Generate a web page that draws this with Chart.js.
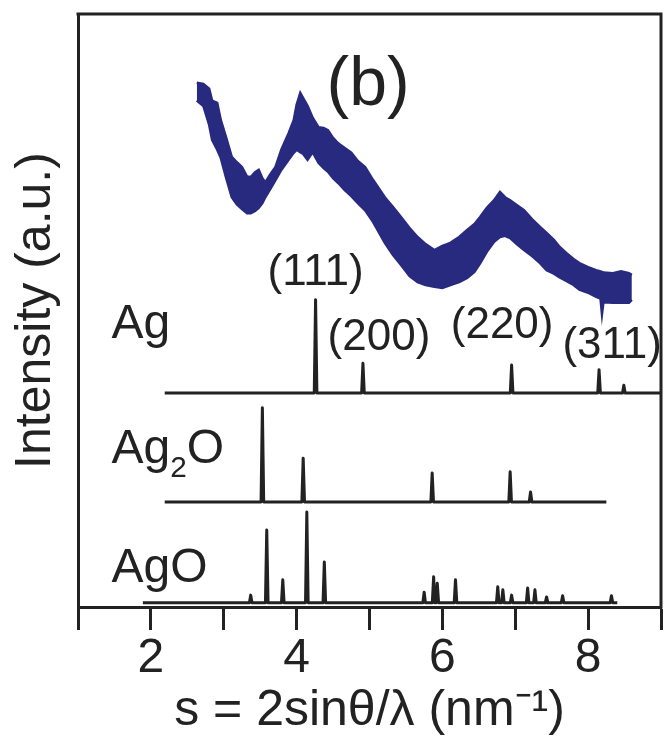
<!DOCTYPE html>
<html>
<head>
<meta charset="utf-8">
<script src="https://cdn.jsdelivr.net/npm/chart.js@4.4.0/dist/chart.umd.min.js"></script>
<style>
  html, body { margin: 0; padding: 0; background: #fff; }
  #chart { display: block; }
</style>
</head>
<body>
<canvas id="chart" width="666" height="738"></canvas>
<script>
// measured trace: upper and lower edge of the noisy blue band
const blueS = [2.63, 2.72, 2.80, 2.84, 2.91, 2.96, 3.03, 3.11, 3.18, 3.25, 3.32, 3.37,
  3.43, 3.48, 3.53, 3.57, 3.64, 3.71, 3.79, 3.89, 3.96, 4.00, 4.05, 4.09, 4.15, 4.22,
  4.30, 4.37, 4.43, 4.50, 4.57, 4.66, 4.75, 4.84, 4.94, 5.05, 5.21, 5.32, 5.43, 5.55,
  5.66, 5.77, 5.89, 6.00, 6.11, 6.23, 6.34, 6.44, 6.52, 6.61, 6.71, 6.79, 6.86, 6.93,
  7.02, 7.12, 7.23, 7.34, 7.43, 7.53, 7.61, 7.70, 7.80, 7.88, 8.00, 8.11, 8.17, 8.19,
  8.21, 8.34, 8.45, 8.56, 8.60];
const blueTop = [88.4, 88.2, 87.4, 85.4, 85.0, 82.1, 79.3, 75.9, 75.0, 74.2, 72.6, 72.5,
  73.3, 73.7, 72.3, 71.6, 73.0, 74.2, 77.1, 79.9, 82.1, 84.7, 86.7, 85.8, 84.5, 82.5,
  80.9, 80.8, 80.4, 79.1, 78.2, 77.4, 76.6, 75.2, 74.2, 72.0, 69.1, 67.5, 65.8, 63.9,
  62.4, 61.2, 60.2, 60.9, 61.4, 62.4, 63.6, 64.6, 65.8, 67.3, 68.6, 70.0, 69.1, 68.6,
  67.8, 66.9, 65.4, 64.1, 63.1, 61.9, 60.7, 59.7, 58.7, 58.0, 57.3, 56.8, 56.6, 56.5,
  56.4, 56.3, 56.6, 56.3, 56.0];
const blueBottom = [85.4, 84.5, 81.3, 78.8, 77.1, 75.7, 72.5, 69.1, 67.9, 67.1, 66.4, 66.4,
  66.8, 67.3, 68.1, 69.1, 70.5, 72.0, 73.7, 75.4, 76.6, 77.1, 76.7, 76.4, 75.4, 76.7,
  74.9, 74.0, 73.4, 72.3, 71.5, 70.3, 69.3, 68.1, 66.9, 64.9, 61.4, 59.4, 57.7, 55.8,
  54.8, 54.3, 54.0, 53.8, 54.3, 54.8, 55.5, 56.5, 58.0, 59.9, 61.6, 62.4, 62.6, 62.2,
  61.2, 60.2, 59.2, 58.0, 56.8, 56.2, 55.6, 55.0, 54.3, 53.5, 53.0, 52.3, 52.0, 49.4,
  51.4, 51.3, 51.3, 51.3, 51.8];

// reference patterns: baseline span, baseline level, peak positions and heights
const agSpan = [2.19, 9.0];
const agBase = 36.1;
const agPeakS = [4.26, 4.91, 6.95, 8.15, 8.49];
const agPeakH = [15.7, 5.0, 4.7, 3.9, 1.3];

const ag2oSpan = [2.19, 8.25];
const ag2oBase = 17.7;
const ag2oPeakS = [3.53, 4.09, 5.86, 6.93, 7.21];
const ag2oPeakH = [15.9, 7.4, 4.9, 5.1, 1.7];

const agoSpan = [1.89, 8.40];
const agoBase = 0.7;
const agoPeakS = [3.37, 3.59, 3.81, 4.14, 4.38, 5.75, 5.88, 5.93, 6.18, 6.76, 6.83,
  6.95, 7.17, 7.27, 7.43, 7.65, 8.32];
const agoPeakH = [1.3, 12.3, 3.9, 15.3, 6.9, 1.8, 4.4, 3.3, 3.9, 2.7, 2.2, 1.3, 2.5,
  2.2, 1.0, 1.2, 1.2];

const xTicks = [2, 4, 6, 8];

const ink = '#222';
const navy = '#272a7e';
const fontFamily = "'Liberation Sans', Arial, sans-serif";

// stick pattern -> line points
function pattern(span, base, peakS, peakH) {
  const pts = [{ x: span[0], y: base }];
  peakS.forEach((s, i) => {
    pts.push({ x: s - 0.018, y: base });
    pts.push({ x: s, y: base + peakH[i] });
    pts.push({ x: s + 0.018, y: base });
  });
  pts.push({ x: span[1], y: base });
  return pts;
}

const stickStyle = {
  borderColor: ink,
  borderWidth: 3,
  borderJoinStyle: 'round',
  pointRadius: 0,
  fill: false,
  tension: 0,
};

// text placed in data coordinates
const textLabels = [
  { parts: [['(b)']], s: 4.98, i: 84.7, size: 68, align: 'center' },
  { parts: [['(111)']], s: 4.26, i: 54.3, size: 44, align: 'center' },
  { parts: [['(200)']], s: 5.13, i: 43.3, size: 44, align: 'center' },
  { parts: [['(220)']], s: 6.82, i: 45.4, size: 44, align: 'center' },
  { parts: [['(311)']], s: 8.33, i: 42.0, size: 44, align: 'center' },
  { parts: [['Ag']], s: 1.46, i: 45.4, size: 48, align: 'left' },
  { parts: [['Ag'], ['2', 'sub'], ['O']], s: 1.46, i: 24.3, size: 48, align: 'left' },
  { parts: [['AgO']], s: 1.46, i: 4.2, size: 48, align: 'left' },
];

const decor = {
  id: 'decor',
  afterDraw(chart) {
    const { ctx, chartArea: a, scales: { x, y } } = chart;
    ctx.save();
    // top and right frame
    ctx.strokeStyle = ink;
    ctx.lineWidth = 3;
    ctx.lineCap = 'square';
    ctx.beginPath();
    ctx.moveTo(a.left, a.top);
    ctx.lineTo(a.right, a.top);
    ctx.lineTo(a.right, a.bottom);
    ctx.stroke();

    ctx.fillStyle = ink;
    ctx.textBaseline = 'alphabetic';
    textLabels.forEach((lab) => {
      const px = x.getPixelForValue(lab.s);
      const py = y.getPixelForValue(lab.i);
      const widths = lab.parts.map(([t, kind]) => {
        ctx.font = (kind === 'sub' ? lab.size * 0.62 : lab.size) + 'px ' + fontFamily;
        return ctx.measureText(t).width;
      });
      const total = widths.reduce((p, w) => p + w, 0);
      let cx = lab.align === 'center' ? px - total / 2 : px;
      ctx.textAlign = 'left';
      lab.parts.forEach(([t, kind], k) => {
        ctx.font = (kind === 'sub' ? lab.size * 0.62 : lab.size) + 'px ' + fontFamily;
        ctx.fillText(t, cx, kind === 'sub' ? py + lab.size * 0.3 : py);
        cx += widths[k];
      });
    });
    ctx.restore();
  },
};

new Chart(document.getElementById('chart'), {
  type: 'line',
  data: {
    datasets: [
      {
        data: blueS.map((s, i) => ({ x: s, y: blueTop[i] })),
        borderColor: navy,
        backgroundColor: navy,
        borderWidth: 2.5,
        pointRadius: 0,
        fill: '+1',
      },
      {
        data: blueS.map((s, i) => ({ x: s, y: blueBottom[i] })),
        borderColor: navy,
        borderWidth: 2.5,
        pointRadius: 0,
        fill: false,
      },
      { ...stickStyle, data: pattern(agSpan, agBase, agPeakS, agPeakH) },
      { ...stickStyle, data: pattern(ag2oSpan, ag2oBase, ag2oPeakS, ag2oPeakH) },
      { ...stickStyle, data: pattern(agoSpan, agoBase, agoPeakS, agoPeakH) },
    ],
  },
  options: {
    responsive: false,
    animation: false,
    layout: { padding: { left: 0, top: 14, right: 1, bottom: 0 } },
    plugins: { legend: { display: false }, tooltip: { enabled: false } },
    scales: {
      x: {
        type: 'linear',
        min: 1,
        max: 9,
        border: { display: true, color: ink, width: 3 },
        grid: {
          drawOnChartArea: false,
          drawTicks: true,
          tickLength: 23,
          tickWidth: 3,
          tickColor: ink,
        },
        ticks: {
          stepSize: 1,
          maxRotation: 0,
          autoSkip: false,
          padding: 5,
          color: ink,
          font: { family: fontFamily, size: 48, lineHeight: 1 },
          callback: (v) => (xTicks.includes(v) ? String(v) : ''),
        },
        title: {
          display: true,
          text: 's = 2sinθ/λ (nm⁻¹)',
          color: ink,
          font: { family: fontFamily, size: 50, lineHeight: 0.9 },
          padding: { top: 1, bottom: 4 },
        },
      },
      y: {
        min: 0,
        max: 100,
        border: { display: true, color: ink, width: 3 },
        grid: { display: false, drawTicks: false },
        ticks: { display: false },
        title: {
          display: true,
          text: 'Intensity (a.u.)',
          color: ink,
          font: { family: fontFamily, size: 50, lineHeight: 1 },
          padding: { top: 11, bottom: 17 },
        },
      },
    },
  },
  plugins: [decor],
});
</script>
</body>
</html>
